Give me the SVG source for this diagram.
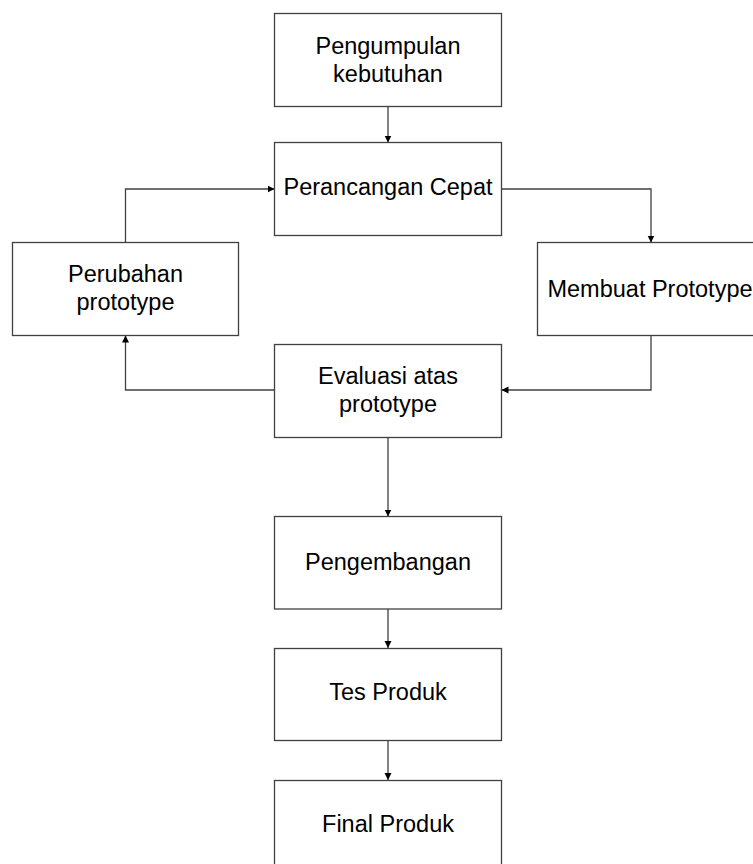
<svg xmlns="http://www.w3.org/2000/svg" width="753" height="864" viewBox="0 0 753 864">
<style>
.box{fill:#fff;stroke:#404040;stroke-width:1.3}
.lbl{font-family:"Liberation Sans",Arial,sans-serif;font-size:23.5px;fill:#000;text-anchor:middle}
.con{fill:none;stroke:#404040;stroke-width:1.3}
</style>
<defs>
<marker id="ah" markerWidth="8" markerHeight="8" refX="7" refY="4" orient="auto" markerUnits="userSpaceOnUse">
<path d="M0,0.5 L7,4 L0,7.5 Z" fill="#000"/>
</marker>
</defs>
<rect width="753" height="864" fill="#fff"/>
<g id="connectors">
<path class="con" d="M388,106.5 V142.5" marker-end="url(#ah)"/>
<path class="con" d="M501.5,189 H651 V242.5" marker-end="url(#ah)"/>
<path class="con" d="M651,335.5 V390 H501.5" marker-end="url(#ah)"/>
<path class="con" d="M274.5,390 H125.5 V335.5" marker-end="url(#ah)"/>
<path class="con" d="M125.5,242.5 V189 H274.5" marker-end="url(#ah)"/>
<path class="con" d="M388,437.5 V516.5" marker-end="url(#ah)"/>
<path class="con" d="M388,609 V648" marker-end="url(#ah)"/>
<path class="con" d="M388,740.5 V780" marker-end="url(#ah)"/>
</g>
<g id="pengumpulan">
<rect class="box" x="274.5" y="13.5" width="227" height="93"/>
<text class="lbl" x="388" y="53.5">Pengumpulan</text>
<text class="lbl" x="388" y="81.5">kebutuhan</text>
</g>
<g id="perancangan">
<rect class="box" x="274.5" y="142.5" width="227" height="93"/>
<text class="lbl" x="388" y="195">Perancangan Cepat</text>
</g>
<g id="perubahan">
<rect class="box" x="12.5" y="242.5" width="226" height="93"/>
<text class="lbl" x="125.5" y="281.5">Perubahan</text>
<text class="lbl" x="125.5" y="310">prototype</text>
</g>
<g id="membuat">
<rect class="box" x="537.5" y="242.5" width="227" height="93"/>
<text class="lbl" x="650" y="296.5">Membuat Prototype</text>
</g>
<g id="evaluasi">
<rect class="box" x="274.5" y="344.5" width="227" height="93"/>
<text class="lbl" x="388" y="383.5">Evaluasi atas</text>
<text class="lbl" x="388" y="411.5">prototype</text>
</g>
<g id="pengembangan">
<rect class="box" x="274.5" y="516.5" width="227" height="92.5"/>
<text class="lbl" x="388" y="570">Pengembangan</text>
</g>
<g id="tes">
<rect class="box" x="274.5" y="648.5" width="227" height="92"/>
<text class="lbl" x="388" y="700">Tes Produk</text>
</g>
<g id="final">
<rect class="box" x="274.5" y="780.5" width="227" height="93"/>
<text class="lbl" x="388" y="832">Final Produk</text>
</g>
</svg>
